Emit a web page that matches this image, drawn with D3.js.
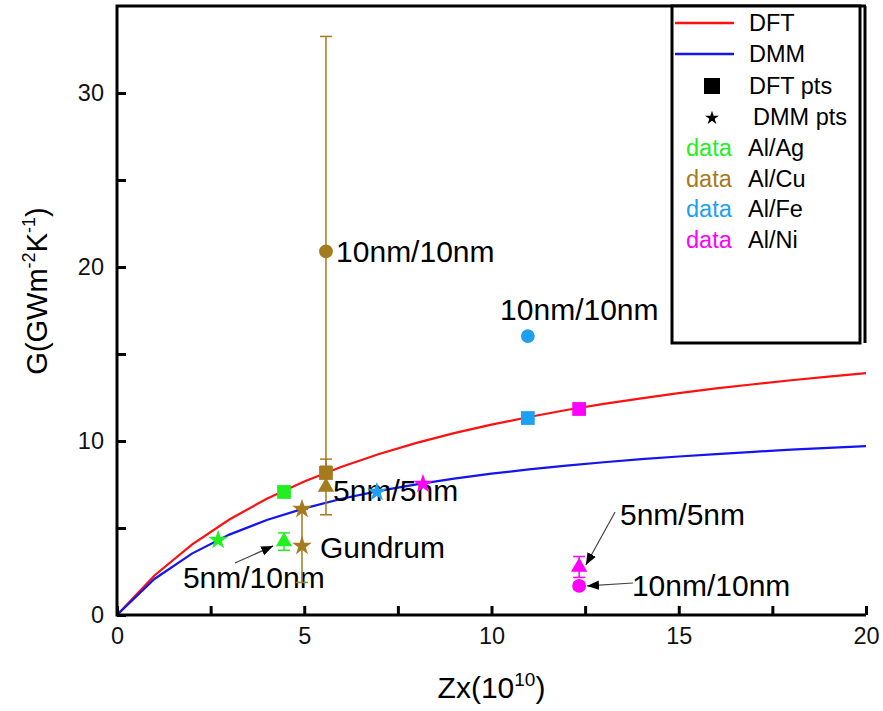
<!DOCTYPE html>
<html>
<head>
<meta charset="utf-8">
<script src="https://cdn.jsdelivr.net/npm/d3@7"></script>
<style>
  body { margin: 0; background: #fff; }
  svg { font-family: "Liberation Sans", Arial, sans-serif; }
</style>
</head>
<body>
<div id="chart"></div>
<script>
const width = 883;
const height = 711;

// model curves
const curveZ = [0, 1, 2, 3, 4, 5, 6, 7, 8, 9, 10, 11, 12, 13, 14, 15, 16, 17, 18, 19, 20];
const dftG = [0, 2.27, 4.05, 5.49, 6.68, 7.67, 8.52, 9.25, 9.89, 10.45, 10.94, 11.38, 11.78, 12.13, 12.45, 12.75, 13.02, 13.26, 13.49, 13.70, 13.90];
const dmmG = [0, 2.07, 3.53, 4.62, 5.46, 6.13, 6.68, 7.13, 7.51, 7.84, 8.12, 8.37, 8.59, 8.78, 8.96, 9.11, 9.25, 9.38, 9.50, 9.60, 9.70];

// data points
const pointSet   = ["Al/Ag", "Al/Ag", "Al/Ag", "Al/Cu", "Al/Cu", "Al/Cu", "Al/Cu", "Al/Cu", "Al/Fe", "Al/Fe", "Al/Fe", "Al/Ni", "Al/Ni", "Al/Ni", "Al/Ni"];
const pointShape = ["star", "square", "triangle", "circle", "square", "triangle", "star", "star", "circle", "square", "star", "square", "star", "triangle", "circle"];
const pointZ     = [2.70, 4.46, 4.46, 5.58, 5.58, 5.58, 4.94, 4.94, 10.97, 10.97, 6.94, 12.34, 8.17, 12.34, 12.34];
const pointG     = [4.31, 7.07, 4.22, 20.9, 8.16, 7.36, 6.09, 3.97, 16.03, 11.32, 7.07, 11.84, 7.53, 2.76, 1.67];
const pointErr   = [0, 0, 0.5, 12.35, 0, 1.6, 0, 2.1, 0, 0, 0, 0, 0, 0.6, 0.2];

const sets = ["Al/Ag", "Al/Cu", "Al/Fe", "Al/Ni"];
const setColors = ["#22ee22", "#a47b1f", "#1ea0f2", "#ff00ff"];

// annotations
const noteText = ["10nm/10nm", "10nm/10nm", "5nm/5nm", "Gundrum", "5nm/10nm", "5nm/5nm", "10nm/10nm"];
const noteZ    = [5.85, 10.23, 5.77, 5.42, 1.76, 13.43, 13.75];
const noteG    = [20.9, 17.53, 7.18, 3.9, 2.18, 5.8, 1.72];

const arrowFrom = [[3.15, 2.99], [13.30, 5.92], [13.78, 1.84]];
const arrowTo   = [[4.17, 3.97], [12.52, 2.87], [12.55, 1.67]];

const xTicks = [0, 5, 10, 15, 20];
const xMinor = [2.5, 7.5, 12.5, 17.5];
const yTicks = [0, 10, 20, 30];
const yMinor = [5, 15, 25];

const padLeft = 117, padRight = 866, padTop = 6, padBottom = 615;

const x = d3.scaleLinear().domain([0, 20]).range([padLeft, padRight]);
const y = d3.scaleLinear().domain([0, 35]).range([padBottom, padTop]);
const color = d3.scaleOrdinal().domain(sets).range(setColors);

const svg = d3.select("#chart")
              .append("svg")
              .attr("width", width)
              .attr("height", height);

const symbolType = {
  star: [d3.symbolStar, 120],
  square: [d3.symbolSquare, 190],
  triangle: [d3.symbolTriangle, 115],
  circle: [d3.symbolCircle, 150]
};

// curves
const line = d3.line()
               .x(d => x(d[0]))
               .y(d => y(d[1]));

svg.append("path")
   .datum(curveZ.map((z, i) => [z, dftG[i]]))
   .attr("d", line)
   .attr("fill", "none")
   .attr("stroke", "#ff1010")
   .attr("stroke-width", 2.2);

svg.append("path")
   .datum(curveZ.map((z, i) => [z, dmmG[i]]))
   .attr("d", line)
   .attr("fill", "none")
   .attr("stroke", "#1414ee")
   .attr("stroke-width", 2.2);

const points = pointZ.map((z, i) => ({
  z: z, g: pointG[i], err: pointErr[i], shape: pointShape[i], set: pointSet[i]
}));

// annotations
svg.append("g")
   .selectAll("text")
   .data(noteText)
   .enter()
   .append("text")
   .attr("x", (d, i) => x(noteZ[i]))
   .attr("y", (d, i) => y(noteG[i]))
   .attr("dominant-baseline", "central")
   .attr("font-size", 30)
   .text(d => d);

svg.append("defs")
   .append("marker")
   .attr("id", "head")
   .attr("viewBox", "0 0 10 10")
   .attr("refX", 10)
   .attr("refY", 5)
   .attr("markerWidth", 12)
   .attr("markerHeight", 12)
   .attr("markerUnits", "userSpaceOnUse")
   .attr("orient", "auto")
   .append("path")
   .attr("d", "M0,1 L10,5 L0,9 Z")
   .attr("fill", "#000");

svg.append("g")
   .selectAll("line")
   .data(arrowFrom)
   .enter()
   .append("line")
   .attr("x1", d => x(d[0]))
   .attr("y1", d => y(d[1]))
   .attr("x2", (d, i) => x(arrowTo[i][0]))
   .attr("y2", (d, i) => y(arrowTo[i][1]))
   .attr("stroke", "#444")
   .attr("stroke-width", 1.2)
   .attr("marker-end", "url(#head)");

// error bars
const errs = svg.append("g")
                .selectAll("g")
                .data(points.filter(d => d.err > 0))
                .enter()
                .append("g")
                .attr("stroke", d => color(d.set))
                .attr("stroke-width", 1.5);

errs.append("line")
    .attr("x1", d => x(d.z))
    .attr("x2", d => x(d.z))
    .attr("y1", d => y(d.g - d.err))
    .attr("y2", d => y(d.g + d.err));

errs.append("line")
    .attr("x1", d => x(d.z) - 6)
    .attr("x2", d => x(d.z) + 6)
    .attr("y1", d => y(d.g - d.err))
    .attr("y2", d => y(d.g - d.err));

errs.append("line")
    .attr("x1", d => x(d.z) - 6)
    .attr("x2", d => x(d.z) + 6)
    .attr("y1", d => y(d.g + d.err))
    .attr("y2", d => y(d.g + d.err));

svg.append("g")
   .selectAll("path")
   .data(points)
   .enter()
   .append("path")
   .attr("transform", d => `translate(${x(d.z)}, ${y(d.g)})`)
   .attr("d", d => d3.symbol().type(symbolType[d.shape][0]).size(symbolType[d.shape][1])())
   .attr("fill", d => color(d.set));

// axes
const xAxis = svg.append("g")
                 .attr("transform", `translate(0, ${padBottom})`)
                 .call(d3.axisBottom(x).tickValues(xTicks).tickSize(-9).tickPadding(12).tickFormat(d3.format("d")));
xAxis.append("g")
     .call(d3.axisBottom(x).tickValues(xMinor).tickSize(-9).tickFormat(""));

const yAxis = svg.append("g")
                 .attr("transform", `translate(${padLeft}, 0)`)
                 .call(d3.axisLeft(y).tickValues(yTicks).tickSize(-9).tickPadding(13).tickFormat(d3.format("d")));
yAxis.append("g")
     .call(d3.axisLeft(y).tickValues(yMinor).tickSize(-9).tickFormat(""));

svg.selectAll(".domain").remove();
svg.selectAll(".tick line").attr("stroke", "#000").attr("stroke-width", 3);
svg.selectAll(".tick text")
   .attr("font-family", "Liberation Sans, Arial, sans-serif")
   .attr("font-size", 23.5)
   .attr("fill", "#111");

// frame lines: left, bottom, top
svg.append("path")
   .attr("d", `M${padRight},${padBottom}H${padLeft}V${padTop}H${padRight}`)
   .attr("fill", "none")
   .attr("stroke", "#000")
   .attr("stroke-width", 3);

// axis titles
const xTitle = svg.append("text")
                  .attr("x", (padLeft + padRight) / 2)
                  .attr("y", 698)
                  .attr("text-anchor", "middle")
                  .attr("font-size", 30);
xTitle.append("tspan").text("Zx(10");
xTitle.append("tspan").attr("font-size", 19).attr("dy", -12).text("10");
xTitle.append("tspan").attr("dy", 12).text(")");

const yTitle = svg.append("text")
                  .attr("transform", `translate(47, 291) rotate(-90)`)
                  .attr("text-anchor", "middle")
                  .attr("font-size", 29);
yTitle.append("tspan").text("G(GWm");
yTitle.append("tspan").attr("font-size", 18).attr("dy", -12).text("-2");
yTitle.append("tspan").attr("dy", 12).text("K");
yTitle.append("tspan").attr("font-size", 18).attr("dy", -12).text("-1");
yTitle.append("tspan").attr("dy", 12).text(")");

// legend
const lg = svg.append("g").attr("transform", "translate(672, 6)");
lg.append("rect")
  .attr("width", 188)
  .attr("height", 337)
  .attr("fill", "#fff")
  .attr("stroke", "#000")
  .attr("stroke-width", 3);
lg.append("line")
  .attr("x1", 193).attr("x2", 193)
  .attr("y1", 0).attr("y2", 337)
  .attr("stroke", "#000")
  .attr("stroke-width", 3);

const legendLines = [["DFT", "#ff1010"], ["DMM", "#1414ee"]];
legendLines.forEach((d, i) => {
  lg.append("line")
    .attr("x1", 3).attr("x2", 62)
    .attr("y1", 17 + i * 31).attr("y2", 17 + i * 31)
    .attr("stroke", d[1])
    .attr("stroke-width", 2.5);
  lg.append("text")
    .attr("x", 77).attr("y", 17 + i * 31)
    .attr("dominant-baseline", "central")
    .attr("font-size", 23.5)
    .text(d[0]);
});

lg.append("path")
  .attr("transform", "translate(40, 80)")
  .attr("d", d3.symbol().type(d3.symbolSquare).size(256)());
lg.append("text")
  .attr("x", 77).attr("y", 80)
  .attr("dominant-baseline", "central")
  .attr("font-size", 23.5)
  .text("DFT pts");

lg.append("path")
  .attr("transform", "translate(40, 112)")
  .attr("d", d3.symbol().type(d3.symbolStar).size(60)());
lg.append("text")
  .attr("x", 81).attr("y", 111)
  .attr("dominant-baseline", "central")
  .attr("font-size", 23.5)
  .text("DMM pts");

const legendSets = lg.selectAll(".set")
                     .data(sets)
                     .enter()
                     .append("g")
                     .attr("class", "set")
                     .attr("transform", (d, i) => `translate(0, ${142 + i * 30.5})`);
legendSets.append("text")
          .attr("x", 14)
          .attr("dominant-baseline", "central")
          .attr("font-size", 23.5)
          .attr("fill", d => color(d))
          .text("data");
legendSets.append("text")
          .attr("x", 76)
          .attr("dominant-baseline", "central")
          .attr("font-size", 23.5)
          .text(d => d);
</script>
</body>
</html>
